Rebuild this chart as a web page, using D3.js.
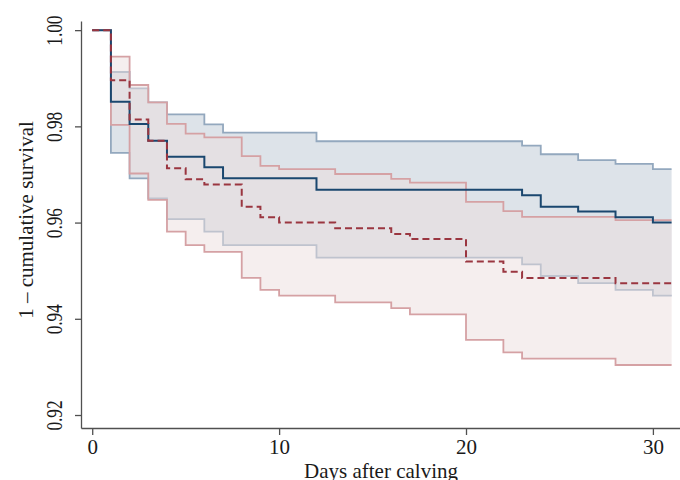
<!DOCTYPE html>
<html>
<head>
<meta charset="utf-8">
<script src="https://cdn.jsdelivr.net/npm/d3@7"></script>
<style>
  html, body { margin: 0; padding: 0; background: #ffffff; }
  svg { display: block; }
  text { font-family: "Liberation Serif", "Times New Roman", serif; fill: #1a1a1a; }
</style>
</head>
<body>
<svg id="chart" width="680" height="480"></svg>
<script>
// Days after calving (value holds from each day until the next)
const days = d3.range(0, 32);

// Group 1 (navy): Kaplan–Meier estimate and 95% confidence bounds
const navyEst = [1.000, 0.9851, 0.9805, 0.9770, 0.9737, 0.9737, 0.9715, 0.9692, 0.9692, 0.9692,
                 0.9692, 0.9692, 0.9668, 0.9668, 0.9668, 0.9668, 0.9668, 0.9668, 0.9668, 0.9668,
                 0.9668, 0.9668, 0.9668, 0.9657, 0.9633, 0.9633, 0.9623, 0.9623, 0.9611, 0.9611,
                 0.9600, 0.9600];
const navyUpper = [1.000, 0.9913, 0.9879, 0.9850, 0.9825, 0.9825, 0.9804, 0.9787, 0.9787, 0.9787,
                   0.9787, 0.9787, 0.9769, 0.9769, 0.9769, 0.9769, 0.9769, 0.9769, 0.9769, 0.9769,
                   0.9769, 0.9769, 0.9769, 0.9760, 0.9742, 0.9742, 0.9730, 0.9730, 0.9722, 0.9722,
                   0.9711, 0.9711];
const navyLower = [1.000, 0.9745, 0.9692, 0.9650, 0.9607, 0.9607, 0.9581, 0.9553, 0.9553, 0.9553,
                   0.9553, 0.9553, 0.9527, 0.9527, 0.9527, 0.9527, 0.9527, 0.9527, 0.9527, 0.9527,
                   0.9527, 0.9527, 0.9527, 0.9513, 0.9489, 0.9489, 0.9474, 0.9474, 0.9460, 0.9460,
                   0.9448, 0.9448];

// Group 2 (maroon, dashed): estimate and 95% confidence bounds
const maroonEst = [1.000, 0.9896, 0.9814, 0.9770, 0.9713, 0.9690, 0.9679, 0.9679, 0.9633, 0.9611,
                   0.9600, 0.9600, 0.9600, 0.9588, 0.9588, 0.9588, 0.9576, 0.9566, 0.9566, 0.9566,
                   0.9519, 0.9519, 0.9498, 0.9485, 0.9485, 0.9485, 0.9485, 0.9485, 0.9474, 0.9474,
                   0.9474, 0.9474];
const maroonUpper = [1.000, 0.9945, 0.9886, 0.9850, 0.9805, 0.9785, 0.9777, 0.9777, 0.9738, 0.9718,
                     0.9711, 0.9711, 0.9711, 0.9701, 0.9701, 0.9701, 0.9691, 0.9683, 0.9683, 0.9683,
                     0.9643, 0.9643, 0.9624, 0.9612, 0.9612, 0.9612, 0.9612, 0.9612, 0.9605, 0.9605,
                     0.9605, 0.9605];
const maroonLower = [1.000, 0.9803, 0.9702, 0.9647, 0.9581, 0.9553, 0.9539, 0.9539, 0.9485, 0.9460,
                     0.9448, 0.9448, 0.9448, 0.9434, 0.9434, 0.9434, 0.9422, 0.9409, 0.9409, 0.9409,
                     0.9356, 0.9356, 0.9330, 0.9317, 0.9317, 0.9317, 0.9317, 0.9317, 0.9304, 0.9304,
                     0.9304, 0.9304];

// Axis ticks and titles
const xTicks = [0, 10, 20, 30];
const yTicks = [0.92, 0.94, 0.96, 0.98, 1.00];
const xTitle = "Days after calving";
const yTitle = "1 \u2013 cumulative survival";

const svg = d3.select("#chart");

const x = d3.scaleLinear().domain([-0.6, 31.45]).range([81, 680]);
const y = d3.scaleLinear().domain([0.9173, 1.0019]).range([428, 21]);

const rows = days.map((d, i) => ({
  d,
  ne: navyEst[i], nu: navyUpper[i], nl: navyLower[i],
  me: maroonEst[i], mu: maroonUpper[i], ml: maroonLower[i]
}));

const stepLine = key => d3.line().curve(d3.curveStepAfter).x(r => x(r.d)).y(r => y(r[key]));
const stepArea = (lo, hi) => d3.area().curve(d3.curveStepAfter)
  .x(r => x(r.d)).y0(r => y(r[lo])).y1(r => y(r[hi]));

const plot = svg.append("g");

// Navy confidence band
plot.append("path").datum(rows)
  .attr("d", stepArea("nl", "nu"))
  .attr("fill", "rgb(221,227,233)");
["nu", "nl"].forEach(k => plot.append("path").datum(rows)
  .attr("d", stepLine(k)).attr("fill", "none")
  .attr("stroke", "#93a8be").attr("stroke-width", 1.8));

// Maroon confidence band (semi-transparent so the overlap shows)
plot.append("path").datum(rows)
  .attr("d", stepArea("ml", "mu"))
  .attr("fill", "rgb(235,221,221)").attr("fill-opacity", 0.5);
["mu", "ml"].forEach(k => plot.append("path").datum(rows)
  .attr("d", stepLine(k)).attr("fill", "none")
  .attr("stroke", "#d5a1a4").attr("stroke-width", 1.8));

// Survival estimates
plot.append("path").datum(rows)
  .attr("d", stepLine("ne")).attr("fill", "none")
  .attr("stroke", "#1a476f").attr("stroke-width", 2);
plot.append("path").datum(rows)
  .attr("d", stepLine("me")).attr("fill", "none")
  .attr("stroke", "#9a3640").attr("stroke-width", 2)
  .attr("stroke-dasharray", "7,4");

// Axes
const axisColor = "#505050";
const gx = svg.append("g").attr("transform", "translate(0,428)")
  .call(d3.axisBottom(x).tickValues(xTicks).tickFormat(d3.format("d")).tickSize(7).tickSizeOuter(0).tickPadding(4));
gx.select(".domain").attr("stroke", axisColor).attr("stroke-width", 1.3);
gx.selectAll(".tick line").attr("stroke", axisColor).attr("stroke-width", 1.3);
gx.selectAll(".tick text").attr("font-size", 21).attr("font-family", "Liberation Serif").attr("fill", "#1a1a1a")
  .attr("dy", "0.71em");

const gy = svg.append("g").attr("transform", "translate(81,0)")
  .call(d3.axisLeft(y).tickValues(yTicks).tickFormat(d3.format(".2f")).tickSize(6).tickSizeOuter(0));
gy.select(".domain").attr("stroke", axisColor).attr("stroke-width", 1.3);
gy.selectAll(".tick line").attr("stroke", axisColor).attr("stroke-width", 1.3);
gy.selectAll(".tick text")
  .attr("font-size", 21).attr("font-family", "Liberation Serif").attr("fill", "#1a1a1a")
  .attr("x", null).attr("dy", null)
  .attr("text-anchor", "middle")
  .attr("transform", "translate(-19,0) rotate(-90) scale(0.82,1.05)");

// Axis titles
svg.append("text")
  .attr("x", 381).attr("y", 478)
  .attr("text-anchor", "middle").attr("font-size", 21)
  .text(xTitle);
svg.append("text")
  .attr("transform", "translate(33,220) rotate(-90)")
  .attr("text-anchor", "middle").attr("font-size", 21)
  .text(yTitle);
</script>
</body>
</html>
